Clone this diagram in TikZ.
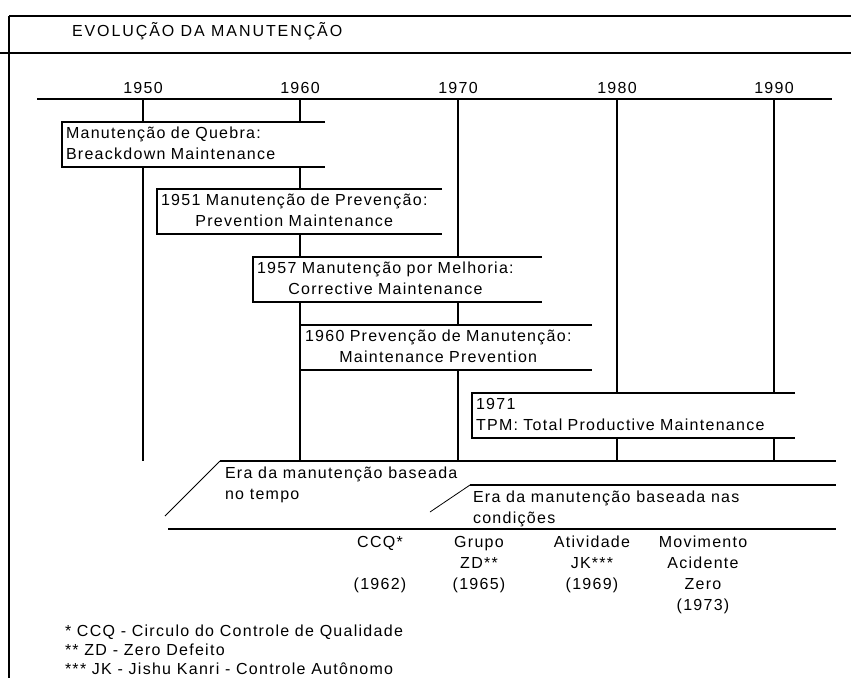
\documentclass[tikz,border=0pt]{standalone}
\usepackage{fontspec}
\setmainfont{Liberation Sans}[LetterSpace=8]
\newfontfamily\titulofonte{Liberation Sans}[LetterSpace=12]
\begin{document}
\begin{tikzpicture}[x=1pt,y=-1pt,
		every node/.style={inner sep=0pt,outer sep=0pt,font=\fontsize{16}{21}\selectfont},
		fino/.style={line width=1.2pt},
		grosso/.style={line width=2.4pt},
		caixa/.style={line width=1.3pt},
		fase/.style={fill=white,anchor=north west,minimum height=45pt,inner xsep=4pt,align=left}]
	\useasboundingbox (0,0) rectangle (851,678);
	\draw[fino] (9,16) -- (9,678);
	\draw[grosso] (9,16) -- (851,16);
	\draw[fino] (0,53) -- (851,53);
	\node[anchor=base west,font=\fontsize{16}{21}\titulofonte] (titulo) at (72,36) {EVOLUÇÃO DA MANUTENÇÃO};
	\draw[fino] (37,99) -- (832,99);
	\foreach \ano/\x/\lw in {1950/143/1.2,1960/300/2.6,1970/458/2.6,1980/617/1.2,1990/774/1.2}{
		\node[anchor=south,inner ysep=5pt] (a\ano) at (\x,99) {\ano};
		\coordinate (b\ano) at (\x,461);
		\draw[line width=\lw pt] (a\ano.south) -- (b\ano);
	}
	\node[fase,text width=255pt] (quebra) at (62,122)
		{\begin{tabular}{@{}l@{}}Manutenção de Quebra:\\Breackdown Maintenance\end{tabular}};
	\node[fase,text width=277pt] (prevencao) at (157,189)
		{\begin{tabular}{@{}c@{}}1951 Manutenção de Prevenção:\\Prevention Maintenance\end{tabular}};
	\node[fase,text width=281pt] (melhoria) at (253,257)
		{\begin{tabular}{@{}c@{}}1957 Manutenção por Melhoria:\\Corrective Maintenance\end{tabular}};
	\node[fase,text width=282pt,inner xsep=5pt] (mp) at (300,325)
		{\begin{tabular}{@{}c@{}}1960 Prevenção de Manutenção:\\Maintenance Prevention\end{tabular}};
	\node[fase,text width=315pt] (tpm) at (472,393)
		{\begin{tabular}{@{}l@{}}1971\\TPM: Total Productive Maintenance\end{tabular}};
	\foreach \c in {quebra,prevencao,melhoria,mp,tpm}
		\draw[caixa] (\c.north east) -- (\c.north west) -- (\c.south west) -- (\c.south east);
	\draw[line width=2.2pt] (melhoria.north west) -- (melhoria.north east);
	\draw[line width=2.2pt] (tpm.south west) -- (tpm.south east);
	\coordinate (t1) at (220,461);
	\coordinate (t2) at (470,485);
	\coordinate (t3) at (168,529);
	\draw[grosso] (t1) -- (836,461);
	\draw[fino] (t2) -- (836,485);
	\draw[grosso] (t3) -- (836,529);
	\coordinate (d1) at (165,516);
	\coordinate (d2) at (430,512);
	\draw[line width=0.8pt] (t1) -- (d1);
	\draw[line width=0.8pt] (t2) -- (d2);
	\node[anchor=north west] (era1) at (225,464)
		{\begin{tabular}{@{}l@{}}Era da manutenção baseada\\no tempo\end{tabular}};
	\node[anchor=north west] (era2) at (473,488)
		{\begin{tabular}{@{}l@{}}Era da manutenção baseada nas\\condições\end{tabular}};
	\node[anchor=north] (ccq) at (380,533)
		{\begin{tabular}{@{}c@{}}CCQ*\\ \\(1962)\end{tabular}};
	\node[anchor=north] (zd) at (479,533)
		{\begin{tabular}{@{}c@{}}Grupo\\ZD**\\(1965)\end{tabular}};
	\node[anchor=north] (jk) at (592,533)
		{\begin{tabular}{@{}c@{}}Atividade\\JK***\\(1969)\end{tabular}};
	\node[anchor=north] (zero) at (703,533)
		{\begin{tabular}{@{}c@{}}Movimento\\Acidente\\Zero\\(1973)\end{tabular}};
	\node[anchor=base west] (n1) at (65,636) {* CCQ - Circulo do Controle de Qualidade};
	\node[anchor=base west] (n2) at (65,655) {** ZD - Zero Defeito};
	\node[anchor=base west] (n3) at (65,674) {*** JK - Jishu Kanri - Controle Autônomo};
\end{tikzpicture}
\end{document}
